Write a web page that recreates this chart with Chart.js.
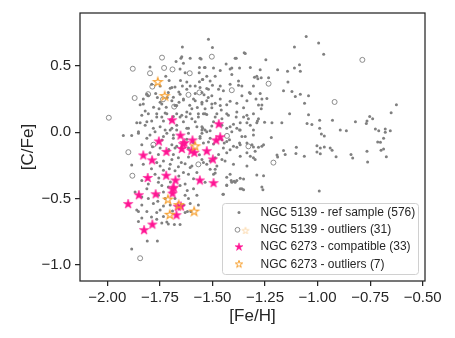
<!DOCTYPE html>
<html>
<head>
<meta charset="utf-8">
<script src="https://cdn.jsdelivr.net/npm/chart.js@4.4.1/dist/chart.umd.min.js"></script>
<style>
  html, body { margin: 0; padding: 0; background: #fff; }
  #wrap { width: 455px; height: 338px; }
</style>
</head>
<body>
<div id="wrap"><canvas id="c" width="455" height="338"></canvas></div>
<script>
// [Fe/H], [C/Fe] pairs
const refSample = [
  [-1.643,0.645],[-1.650,0.559],[-1.673,0.534],[-1.638,0.522],[-1.797,0.493],[-1.562,0.490],[-1.538,0.490],[-1.654,0.478],
  [-1.722,0.424],[-1.563,0.449],[-1.706,0.392],[-1.652,0.392],[-1.548,0.399],[-1.789,0.362],[-1.622,0.379],[-1.562,0.382],
  [-1.678,0.342],[-1.643,0.350],[-1.582,0.350],[-1.693,0.338],[-1.622,0.325],[-1.710,0.301],[-1.770,0.293],[-1.654,0.288],
  [-1.582,0.293],[-1.550,0.301],[-1.812,0.288],[-1.805,0.276],[-1.638,0.251],[-1.582,0.239],[-1.693,0.239],[-1.659,0.227],
  [-1.550,0.227],[-1.829,0.214],[-1.844,0.209],[-1.741,0.214],[-1.678,0.202],[-1.598,0.177],[-1.820,0.160],[-1.765,0.140],
  [-1.717,0.140],[-1.670,0.140],[-1.622,0.153],[-1.567,0.140],[-1.543,0.140],[-1.741,0.116],[-1.654,0.116],[-1.598,0.103],
  [-1.860,0.072],[-1.844,0.072],[-1.812,0.079],[-1.789,0.086],[-1.733,0.086],[-1.638,0.079],[-1.582,0.079],[-1.749,0.042],
  [-1.725,0.017],[-1.670,0.054],[-1.614,0.030],[-1.550,0.042],[-1.852,0.005],
  [-1.519,0.702],[-1.054,0.724],[-1.500,0.641],[-1.344,0.596],[-1.554,0.554],[-1.387,0.559],[-1.246,0.547],[-1.110,0.645],
  [-1.435,0.515],[-1.535,0.490],[-1.495,0.486],[-1.463,0.466],[-1.408,0.486],[-1.273,0.473],[-1.190,0.473],[-1.110,0.486],
  [-1.086,0.510],[-1.082,0.461],[-1.143,0.461],[-1.527,0.424],[-1.487,0.424],[-1.546,0.399],[-1.511,0.387],[-1.408,0.436],
  [-1.300,0.416],[-1.268,0.412],[-1.233,0.412],[-1.376,0.387],[-1.376,0.355],[-1.360,0.350],[-1.141,0.379],[-1.559,0.338],
  [-1.527,0.330],[-1.471,0.325],[-1.448,0.313],[-1.324,0.301],[-1.273,0.293],[-1.162,0.313],[-1.122,0.308],[-1.082,0.288],
  [-1.540,0.283],[-1.503,0.276],[-1.360,0.276],[-1.293,0.251],[-1.265,0.251],[-1.241,0.256],[-1.043,0.276],[-1.527,0.239],
  [-1.487,0.219],[-1.550,0.214],[-1.384,0.219],[-1.463,0.202],[-1.432,0.209],[-1.281,0.207],[-1.265,0.207],[-1.062,0.219],
  [-1.535,0.177],[-1.503,0.185],[-1.352,0.185],[-1.268,0.177],[-1.535,0.140],[-1.479,0.140],[-1.432,0.140],[-1.384,0.153],
  [-1.305,0.140],[-1.336,0.128],[-1.133,0.140],[-1.455,0.103],[-1.387,0.116],[-1.352,0.116],[-1.329,0.103],[-1.495,0.079],
  [-1.400,0.061],[-1.368,0.072],[-1.336,0.072],[-1.289,0.072],[-1.217,0.072],[-1.170,0.072],[-1.050,0.067],[-1.432,0.030],
  [-1.371,0.017],[-1.305,0.017],[-1.546,0.030],[-1.511,0.012],
  [-0.995,0.675],[-0.971,0.589],[-1.106,0.271],[-1.043,0.133],[-1.286,0.086],[-1.252,0.076],[-1.220,-0.039],[-1.027,0.059],
  [-0.990,0.091],[-0.990,0.030],[-0.982,-0.013],[-0.968,-0.027],[-0.929,0.091],[-0.892,0.017],[-0.863,0.012],[-0.820,0.079],
  [-0.768,0.067],[-0.765,0.086],[-0.752,0.120],[-0.738,0.103],[-0.725,0.024],[-0.709,0.012],[-0.678,0.024],[-0.678,0.000],
  [-0.654,0.012],[-0.686,-0.044],[-0.714,-0.074],[-0.701,-0.076],[-0.650,0.148],[-0.625,0.209],[-0.765,-0.143],[-0.686,-0.126],
  [-1.101,-0.113],[-1.162,-0.138],[-1.003,-0.101],[-0.987,-0.118],[-0.968,-0.111],[-0.940,-0.118],[-0.931,-0.135],[-1.257,-0.094],
  [-1.281,-0.113],[-1.305,-0.111],[-1.284,0.405],
  [-1.003,-0.148],[-0.987,-0.162],[-1.063,-0.180],[-0.912,-0.185],[-0.841,-0.168],[-0.833,-0.195],[-0.673,-0.185],[-0.762,-0.224],
  [-0.698,-0.135],
  [-1.550,0.017],[-1.527,0.005],[-1.559,-0.044],[-1.543,-0.081],[-1.519,-0.074],[-1.495,-0.089],[-1.455,-0.057],[-1.444,-0.081],
  [-1.419,-0.057],[-1.400,-0.106],[-1.416,-0.131],[-1.384,-0.113],[-1.360,-0.032],[-1.371,-0.081],[-1.336,-0.155],[-1.320,-0.180],
  [-1.305,-0.192],[-1.297,-0.143],[-1.265,-0.106],[-1.305,-0.020],[-1.193,-0.172],[-1.190,-0.187],[-1.154,-0.168],[-1.103,-0.160],
  [-1.471,-0.168],[-1.487,-0.192],[-1.511,-0.217],[-1.527,-0.242],[-1.455,-0.205],[-1.440,-0.217],[-1.400,-0.242],[-1.511,-0.279],
  [-1.487,-0.279],[-1.495,-0.316],[-1.416,-0.316],[-1.368,-0.347],[-1.352,-0.353],[-1.384,-0.364],[-1.411,-0.364],[-1.450,-0.468],
  [-1.368,-0.426],[-1.352,-0.434],[-1.265,-0.414],[-1.260,-0.434],[-1.559,-0.364],[-1.535,-0.377],
  [-0.992,-0.443],[-1.257,-0.328],[-1.289,-0.323],[-1.432,-0.340],[-1.408,-0.377],[-1.392,-0.377],[-1.432,-0.398],[-1.360,-0.426],
  [-1.924,-0.025],[-1.884,-0.025],[-1.852,-0.007],[-1.797,-0.020],[-1.773,0.005],[-1.717,-0.007],[-1.686,-0.020],[-1.670,0.017],
  [-1.614,-0.007],[-1.550,-0.007],[-1.836,-0.094],[-1.749,-0.118],[-1.693,-0.094],[-1.678,-0.118],[-1.614,-0.118],[-1.797,-0.155],
  [-1.757,-0.168],[-1.686,-0.168],[-1.662,-0.192],[-1.614,-0.187],[-1.550,-0.205],[-1.884,-0.246],[-1.829,-0.242],[-1.765,-0.229],
  [-1.733,-0.217],[-1.749,-0.254],[-1.701,-0.242],[-1.662,-0.261],[-1.630,-0.237],[-1.598,-0.254],[-1.733,-0.286],[-1.773,-0.316],
  [-1.678,-0.291],[-1.638,-0.303],[-1.614,-0.316],[-1.574,-0.303],[-1.836,-0.364],[-1.805,-0.390],[-1.757,-0.377],[-1.741,-0.402],
  [-1.710,-0.414],[-1.654,-0.402],[-1.630,-0.390],[-1.590,-0.426],[-1.574,-0.475],[-1.812,-0.426],[-1.868,-0.451],[-1.836,-0.488],
  [-1.805,-0.500],[-1.757,-0.475],[-1.733,-0.451],[-1.725,-0.500],[-1.678,-0.500],[-1.630,-0.475],[-1.614,-0.500],[-1.836,-0.549],
  [-1.781,-0.537],[-1.733,-0.557],[-1.701,-0.549],[-1.638,-0.549],[-1.606,-0.537],[-1.812,-0.599],[-1.765,-0.606],[-1.749,-0.586],
  [-1.630,-0.606],[-1.836,-0.648],[-1.765,-0.656],[-1.733,-0.636],[-1.852,-0.673],[-1.741,-0.685],[-1.717,-0.678],
  [-1.810,-0.820],[-1.762,-0.820],[-1.884,-0.882],[-1.710,-0.692],[-1.681,-0.697],[-1.654,-0.697],[-1.860,-0.586],[-1.852,-0.599],
  [-1.619,-0.599],[-1.603,-0.599],[-1.567,-0.549],[-1.448,-0.468],[-1.432,-0.402],[-1.397,-0.370],[-1.487,-0.308],
  [-1.646,0.571],[-1.606,0.559],[-1.559,0.559],[-1.392,0.559],[-1.349,0.601],[-1.416,0.478],[-1.371,0.486],[-1.320,0.490],
  [-1.630,0.449],[-1.289,0.424],[-1.305,0.350],[-1.500,0.355],[-1.463,0.350],[-1.416,0.362],[-1.320,0.293],[-1.754,0.177],
  [-1.720,0.190],[-1.336,-0.081],[-1.312,-0.094],[-1.693,0.030],[-1.455,0.054],[-1.384,0.030],[-1.408,0.005],[-1.344,-0.032],
  [-1.749,0.350],[-1.701,0.333],[-1.606,0.350],[-1.519,0.325],[-1.829,0.251],[-1.749,0.227],[-1.686,0.264],[-1.670,0.202],
  [-1.638,0.244],[-1.590,0.251],[-1.503,0.214],[-1.463,0.251],[-1.416,0.234],[-1.336,0.239],[-1.836,0.128],[-1.805,0.140],
  [-1.765,0.116],[-1.725,0.146],[-1.686,0.120],[-1.646,0.128],[-1.606,0.140],[-1.567,0.116],[-1.527,0.135],[-1.487,0.116],
  [-1.424,0.128],[-1.281,0.103],[-1.820,0.054],[-1.781,0.030],[-1.701,0.017],[-1.622,0.030],[-1.574,0.042],[-1.535,0.017],
  [-1.503,0.047],[-1.416,0.042],[-1.368,0.017],[-1.320,0.054],[-1.812,-0.044],[-1.733,-0.032],[-1.686,-0.044],[-1.670,-0.106],
  [-1.559,-0.032],[-1.511,-0.044],[-1.432,-0.069],[-1.368,-0.094],[-1.448,-0.118],[-1.693,-0.205],[-1.606,-0.266],[-1.543,-0.229],
  [-1.479,-0.254],[-1.432,-0.155],[-1.368,-0.180],[-1.336,-0.254],[-1.297,-0.205],
  [-1.762,0.262],[-1.715,0.262],[-1.660,0.305],[-1.608,0.205],[-1.625,0.118],[-1.700,0.095],[-1.780,0.190],[-1.572,0.188],
  [-1.520,0.262],[-1.458,0.168],[-1.590,-0.078],[-1.622,-0.052],[-1.740,-0.058],[-1.785,-0.110],[-1.708,-0.130],[-1.562,-0.170],
  [-1.648,-0.228],[-1.705,-0.275],[-1.790,-0.275],[-1.755,-0.345],[-1.660,-0.330],[-1.590,-0.350],[-1.700,-0.375],[-1.620,-0.440],
  [-1.760,-0.520],[-1.690,-0.595],[-1.790,-0.640]
];

const refOutliers = [
  [-1.993,0.110],[-1.879,0.480],[-1.740,0.564],[-1.730,0.486],[-1.690,0.475],[-1.608,0.446],[-1.797,0.446],[-1.786,0.345],
  [-1.870,0.259],[-1.806,0.288],[-1.614,0.283],[-1.682,0.194],[-1.503,0.571],[-1.562,0.301],[-1.408,0.318],[-1.431,-0.027],
  [-1.900,-0.150],[-1.781,-0.094],[-1.329,-0.106],[-1.233,0.367],[-0.787,0.547],[-0.919,0.229],[-1.567,-0.242],[-1.881,-0.328],
  [-1.844,-0.951],[-1.210,-0.229],[-1.735,0.249]
];

const compatible = [
  [-1.692,0.091],[-1.470,0.061],[-1.652,-0.025],[-1.463,-0.037],[-1.482,-0.061],[-1.633,-0.081],[-1.595,-0.061],[-1.755,-0.069],
  [-1.646,-0.126],[-1.586,-0.155],[-1.527,-0.143],[-1.719,-0.148],[-1.829,-0.175],[-1.787,-0.212],[-1.498,-0.205],[-1.808,-0.345],
  [-1.720,-0.328],[-1.676,-0.364],[-1.560,-0.364],[-1.495,-0.384],[-1.684,-0.419],[-1.690,-0.463],[-1.770,-0.468],[-1.850,-0.475],
  [-1.901,-0.542],[-1.665,-0.562],[-1.650,-0.560],[-1.671,-0.626],[-1.786,-0.697],[-1.825,-0.739],[-1.640,-0.090],[-1.600,-0.140],
  [-1.690,-0.430]
];

const ngc6273Outliers = [
  [-1.760,0.379],[-1.727,0.273],[-1.712,-0.508],[-1.703,-0.623],[-1.587,-0.599],[-1.582,-0.106],[-1.660,-0.550]
];

const xTicks = [-2.0, -1.75, -1.5, -1.25, -1.0, -0.75, -0.5];
const yTicks = [-1.0, -0.5, 0.0, 0.5];
const legendLabels = [
  'NGC 5139 - ref sample (576)',
  'NGC 5139 - outliers (31)',
  'NGC 6273 - compatible (33)',
  'NGC 6273 - outliers (7)'
];

const FONT = '"Liberation Sans", Arial, sans-serif';
const INK = '#262626';
const GREY = '#808080';
const PINK = '#ff1493';
const ORANGE = '#f7a030';

function starCanvas(r, fill, stroke, lw) {
  const s = Math.ceil(2 * r + 2 * lw + 2);
  const c = document.createElement('canvas');
  c.width = c.height = s;
  const g = c.getContext('2d');
  g.translate(s / 2, s / 2);
  g.beginPath();
  for (let i = 0; i < 10; i++) {
    const rr = i % 2 ? r * 0.382 : r;
    const a = -Math.PI / 2 + i * Math.PI / 5;
    g.lineTo(rr * Math.cos(a), rr * Math.sin(a));
  }
  g.closePath();
  if (fill) { g.fillStyle = fill; g.fill(); }
  if (stroke) { g.lineJoin = 'miter'; g.lineWidth = lw; g.strokeStyle = stroke; g.stroke(); }
  return c;
}

const pinkStar = starCanvas(5, PINK, PINK, 0.6);
const orangeStar = starCanvas(4.7, null, ORANGE, 1.1);

const toXY = arr => arr.map(p => ({x: p[0], y: p[1]}));
const fmt = (v, d) => (v < 0 ? '\u2212' : '') + Math.abs(v).toFixed(d);

const framePlugin = {
  id: 'frame',
  afterDraw(chart) {
    const {ctx, chartArea: a} = chart;
    ctx.save();
    ctx.strokeStyle = INK;
    ctx.lineWidth = 1.25;
    ctx.strokeRect(a.left, a.top, a.right - a.left, a.bottom - a.top);

    // legend box, lower right
    const bx = 222.5, by = 203.5, bw = 196, bh = 71, r = 3;
    ctx.beginPath();
    ctx.moveTo(bx + r, by);
    ctx.arcTo(bx + bw, by, bx + bw, by + bh, r);
    ctx.arcTo(bx + bw, by + bh, bx, by + bh, r);
    ctx.arcTo(bx, by + bh, bx, by, r);
    ctx.arcTo(bx, by, bx + bw, by, r);
    ctx.closePath();
    ctx.fillStyle = 'rgba(255,255,255,0.85)';
    ctx.fill();
    ctx.strokeStyle = '#d0d0d0';
    ctx.lineWidth = 1;
    ctx.stroke();

    const rows = [212.5, 229.8, 247, 264.3];
    const mx = 239;
    ctx.fillStyle = GREY;
    ctx.beginPath(); ctx.arc(mx, rows[0], 1.5, 0, Math.PI * 2); ctx.fill();
    ctx.strokeStyle = GREY; ctx.lineWidth = 0.9;
    ctx.beginPath(); ctx.arc(mx - 1.5, rows[1], 2.4, 0, Math.PI * 2); ctx.stroke();
    const faint = starCanvas(3.6, null, 'rgba(247,160,48,0.35)', 1);
    ctx.drawImage(faint, mx + 6.5 - faint.width / 2, rows[1] + 1 - faint.height / 2);
    const ps = starCanvas(4.2, PINK, PINK, 0.5);
    ctx.drawImage(ps, mx - ps.width / 2, rows[2] - ps.height / 2);
    const os = starCanvas(3.9, null, ORANGE, 1);
    ctx.drawImage(os, mx - os.width / 2, rows[3] - os.height / 2);

    ctx.fillStyle = INK;
    ctx.font = '12px ' + FONT;
    ctx.textBaseline = 'middle';
    ctx.textAlign = 'left';
    legendLabels.forEach((t, i) => ctx.fillText(t, 260.5, rows[i]));
    ctx.restore();
  }
};

new Chart(document.getElementById('c').getContext('2d'), {
  type: 'scatter',
  data: {
    datasets: [
      {
        label: legendLabels[0],
        data: toXY(refSample),
        pointStyle: 'circle',
        pointRadius: 1.5,
        pointBackgroundColor: GREY,
        pointBorderWidth: 0,
        order: 4
      },
      {
        label: legendLabels[1],
        data: toXY(refOutliers),
        pointStyle: 'circle',
        pointRadius: 2.5,
        pointBackgroundColor: 'rgba(0,0,0,0)',
        pointBorderColor: GREY,
        pointBorderWidth: 0.9,
        order: 3
      },
      {
        label: legendLabels[2],
        data: toXY(compatible),
        pointStyle: pinkStar,
        pointRadius: 5,
        order: 2
      },
      {
        label: legendLabels[3],
        data: toXY(ngc6273Outliers),
        pointStyle: orangeStar,
        pointRadius: 5,
        order: 1
      }
    ]
  },
  options: {
    responsive: false,
    animation: false,
    events: [],
    layout: { padding: { left: 0, right: 30, top: 7, bottom: 0 } },
    plugins: {
      legend: { display: false },
      tooltip: { enabled: false }
    },
    scales: {
      x: {
        type: 'linear',
        min: -2.130,
        max: -0.489,
        afterBuildTicks: s => { s.ticks = xTicks.map(v => ({value: v})); },
        afterFit: s => { s.height = 57; },
        grid: { display: true, drawOnChartArea: false, drawTicks: true, tickLength: 5, color: INK, lineWidth: 1.25 },
        border: { display: false },
        ticks: {
          color: INK,
          font: { family: FONT, size: 15 },
          padding: 3,
          maxRotation: 0,
          autoSkip: false,
          callback: v => fmt(v, 2)
        },
        title: {
          display: true,
          text: '[Fe/H]',
          color: INK,
          font: { family: FONT, size: 17 },
          padding: { top: 0, bottom: 11 }
        }
      },
      y: {
        type: 'linear',
        min: -1.123,
        max: 0.901,
        afterBuildTicks: s => { s.ticks = yTicks.map(v => ({value: v})); },
        afterFit: s => { s.width = 80; },
        grid: { display: true, drawOnChartArea: false, drawTicks: true, tickLength: 5, color: INK, lineWidth: 1.25 },
        border: { display: false },
        ticks: {
          color: INK,
          font: { family: FONT, size: 15 },
          padding: 4,
          autoSkip: false,
          callback: v => fmt(v, 1)
        },
        title: {
          display: true,
          text: '[C/Fe]',
          color: INK,
          font: { family: FONT, size: 17 },
          padding: { top: 18, bottom: 0 }
        }
      }
    }
  },
  plugins: [framePlugin]
});
</script>
</body>
</html>
